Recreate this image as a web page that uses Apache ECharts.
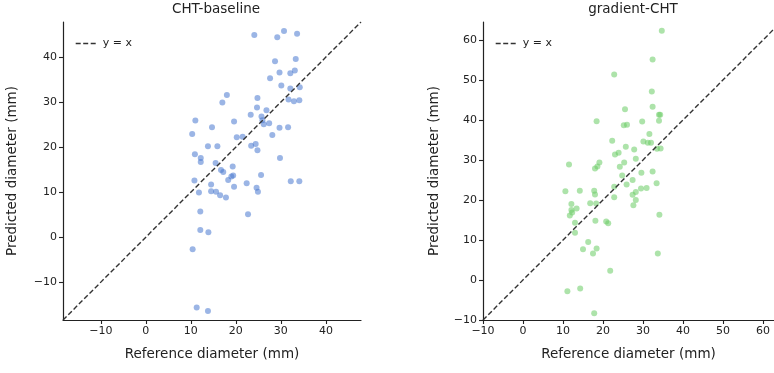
<!DOCTYPE html>
<html>
<head>
<meta charset="utf-8">
<script src="https://cdn.jsdelivr.net/npm/echarts@6/dist/echarts.min.js"></script>
<style>html,body{margin:0;padding:0;background:#fff}#c{width:774px;height:373px}</style>
</head>
<body>
<div id="c"></div>
<script>
// ---- data ----
const titles = ['CHT-baseline', 'gradient-CHT'];
const xLabel = 'Reference diameter (mm)';
const yLabel = 'Predicted diameter (mm)';
const refLineName = 'y = x';

const baselineRef = [24.1,29.2,30.7,33.6,28.7,33.3,29.7,32.1,33.1,27.6,30.1,32.1,34.2,18.0,17.0,24.8,31.7,32.9,34.1,24.7,26.8,23.3,25.7,25.9,26.2,27.4,11.0,19.6,14.7,29.7,31.6,10.3,28.1,20.2,21.5,13.8,15.9,23.4,24.4,24.8,10.9,12.2,12.2,29.8,15.5,19.3,16.7,17.2,19.0,19.4,18.3,25.6,10.8,14.5,22.4,32.2,34.1,19.6,24.6,24.9,11.8,14.5,15.6,16.5,17.8,12.1,22.7,12.1,13.9,10.4,11.3,13.8];
const baselinePred = [44.9,44.4,45.8,45.2,39.1,39.6,36.6,36.4,37.0,35.3,33.7,33.0,33.3,31.6,29.9,30.9,30.6,30.2,30.4,28.8,28.2,27.2,26.8,26.0,25.1,25.3,25.9,25.7,24.4,24.3,24.4,22.9,22.7,22.2,22.3,20.2,20.2,20.3,20.7,19.3,18.4,17.6,16.7,17.6,16.5,15.7,14.9,14.5,13.5,13.7,12.7,13.8,12.6,11.7,12.0,12.4,12.4,11.2,11.0,10.1,9.9,10.2,10.1,9.3,8.8,5.7,5.1,1.6,1.1,-2.7,-15.6,-16.4];

const gradientRef = [34.7,32.4,22.8,32.2,25.5,32.4,34.0,34.3,34.0,18.4,25.2,26.0,29.8,31.6,22.3,30.1,31.2,32.0,25.7,27.8,33.5,34.4,23.0,23.9,28.2,25.3,11.5,24.2,19.1,18.6,18.0,29.6,32.4,24.8,27.4,25.9,33.4,22.8,29.5,30.9,28.2,27.4,10.6,14.2,17.8,18.0,22.8,28.2,27.6,16.8,18.3,12.1,13.4,12.1,12.3,11.7,34.1,18.1,20.8,21.3,13.0,13.0,16.3,15.0,18.4,17.5,33.7,21.8,14.3,11.1,17.8];
const gradientPred = [62.3,55.1,51.4,47.1,42.7,43.3,41.3,41.3,39.8,39.7,38.7,38.8,39.6,36.5,34.8,34.6,34.3,34.3,33.3,32.6,32.8,32.9,31.4,31.8,30.3,29.4,28.9,28.3,29.4,28.4,27.9,26.8,27.1,26.1,25.0,23.9,24.2,23.3,22.9,23.0,22.0,21.3,22.2,22.3,22.3,21.4,20.7,20.0,18.7,19.2,19.1,19.0,17.9,17.5,16.9,16.1,16.3,14.8,14.6,14.2,14.3,11.8,9.5,7.7,7.9,6.6,6.6,2.3,-2.1,-2.8,-8.3];

const baselineTicks = [-10, 0, 10, 20, 30, 40];
const gradientTicks = [-10, 0, 10, 20, 30, 40, 50, 60];
const baselineLimits = [-18.4, 47.8];
const gradientXLimits = [-10, 62.75];
const gradientYLimits = [-10, 64.5];

// ---- chart ----
const FONT = 'DejaVu Sans';
const fmt = v => String(v).replace('-', '\u2212');
function zip(a, b) { return a.map((v, i) => [v, b[i]]); }

function axis(gi, lim, ticks, isX, nameGap) {
  return {
    gridIndex: gi, type: 'value', min: lim[0], max: lim[1],
    name: isX ? xLabel : yLabel, nameLocation: 'middle', nameGap: nameGap,
    nameTextStyle: { fontFamily: FONT, fontSize: 13.5, color: '#222' },
    axisLine: { show: true, onZero: false, lineStyle: { color: '#222', width: 1.2 } },
    axisTick: { show: true, length: 4, customValues: ticks, lineStyle: { color: '#222', width: 1.1 } },
    axisLabel: { customValues: ticks, formatter: fmt, fontFamily: FONT, fontSize: 11, color: '#222', margin: 6 },
    splitLine: { show: false }
  };
}

const chart = echarts.init(document.getElementById('c'), null, { renderer: 'canvas' });
const lineStyle = { color: '#333', width: 1.4, type: [5, 2.5] };
const legendText = { fontFamily: FONT, fontSize: 11, color: '#222' };
const legendCommon = { itemWidth: 22, itemHeight: 12, data: [refLineName], textStyle: legendText, selectedMode: false,
  itemStyle: { opacity: 0 }, lineStyle: { color: '#333', width: 1.4, type: [5, 2.5] } };
const titleStyle = { fontFamily: FONT, fontSize: 13.5, fontWeight: 'normal', color: '#222' };
chart.setOption({
  animation: false,
  backgroundColor: '#fff',
  title: [
    { text: titles[0], left: 211, top: -3, textAlign: 'center', textStyle: titleStyle },
    { text: titles[1], left: 628, top: -3, textAlign: 'center', textStyle: titleStyle }
  ],
  grid: [
    { left: 63, top: 22, width: 298, height: 298 },
    { left: 483, top: 22, width: 291, height: 298 }
  ],
  legend: [
    Object.assign({ left: 70, top: 33 }, legendCommon),
    Object.assign({ left: 490, top: 33 }, legendCommon)
  ],
  xAxis: [
    axis(0, baselineLimits, baselineTicks, true, 27),
    axis(1, gradientXLimits, gradientTicks, true, 27)
  ],
  yAxis: [
    axis(0, baselineLimits, baselineTicks, false, 44),
    axis(1, gradientYLimits, gradientTicks, false, 42)
  ],
  series: [
    { type: 'scatter', xAxisIndex: 0, yAxisIndex: 0, symbolSize: 6, data: zip(baselineRef, baselinePred),
      itemStyle: { color: '#4878d0', opacity: 0.55 } },
    { type: 'scatter', xAxisIndex: 1, yAxisIndex: 1, symbolSize: 6, data: zip(gradientRef, gradientPred),
      itemStyle: { color: '#6acc64', opacity: 0.55 } },
    { type: 'line', name: refLineName, xAxisIndex: 0, yAxisIndex: 0, symbol: 'none', lineStyle: lineStyle,
      itemStyle: { color: '#333' },
      data: [[baselineLimits[0], baselineLimits[0]], [baselineLimits[1], baselineLimits[1]]] },
    { type: 'line', name: refLineName, xAxisIndex: 1, yAxisIndex: 1, symbol: 'none', lineStyle: lineStyle,
      itemStyle: { color: '#333' },
      data: [[gradientYLimits[0], gradientYLimits[0]], [gradientXLimits[1], gradientXLimits[1]]] }
  ]
});
</script>
</body>
</html>
